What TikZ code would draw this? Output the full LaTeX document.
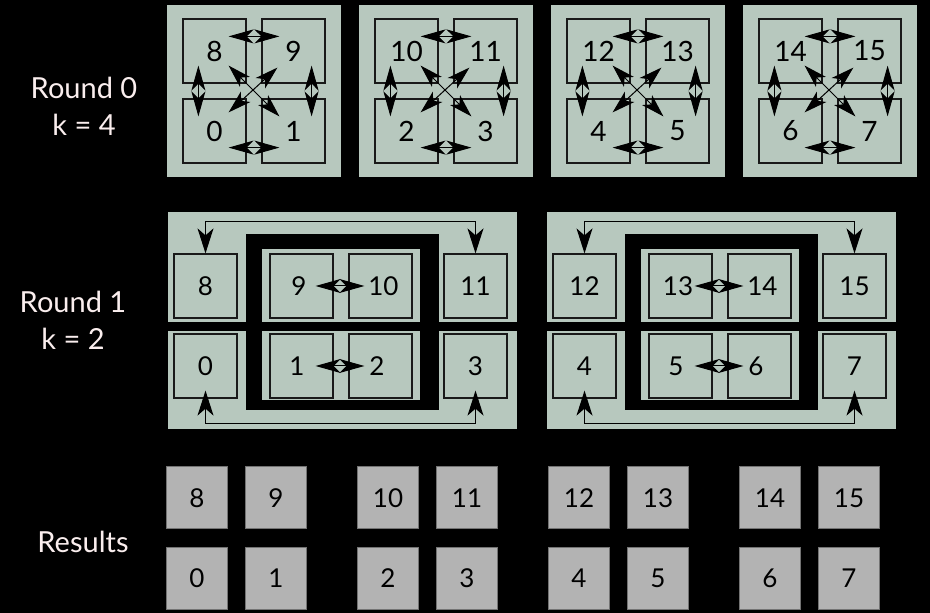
\documentclass[tikz,border=0pt]{standalone}
\usepackage{fontspec}
\setmainfont{Lato}
\usetikzlibrary{arrows.meta, math, positioning}
\definecolor{sage}{RGB}{183,200,190}
\definecolor{resgrey}{RGB}{179,179,179}
\definecolor{txtwhite}{RGB}{250,238,238}

\begin{document}
\begin{tikzpicture}[x=0.5pt, y=-0.5pt,
  cell/.style={draw=black!90, line width=0.6pt, minimum width=31.5pt, minimum height=32pt, inner sep=0pt, font=\fontsize{14}{14}\selectfont},
  rescell/.style={fill=resgrey, draw=black!55, line width=0.5pt, minimum width=30.5pt, minimum height=31pt, inner sep=0pt, font=\fontsize{13}{13}\selectfont},
  digit/.style={inner sep=0pt, font=\fontsize{13}{13}\selectfont},
  pairarrow/.style={{Stealth[length=12.5pt,width=7pt,inset=3.5pt]}-{Stealth[length=12.5pt,width=7pt,inset=3.5pt]}, line width=0.5pt},
  diagarrow/.style={{Stealth[length=11.5pt,width=7pt,inset=3pt]}-{Stealth[length=11.5pt,width=7pt,inset=3pt]}, line width=0.5pt},
  hoparrow/.style={{Stealth[length=12.5pt,width=8pt,inset=3.5pt]}-{Stealth[length=12.5pt,width=8pt,inset=3.5pt]}, line width=0.6pt},
  lbl/.style={text=txtwhite, align=center, font=\fontsize{14.5}{18.5}\selectfont}]
\tikzmath{
\dzero=192;
\dres=191;
\dpair=79;
}
%background
\fill[black] (0,0) rectangle (930,613);

%round 0
\foreach \i in {0,...,3}{
  \pgfmathsetmacro\L{167+\dzero*\i}
  \pgfmathtruncatemacro\ta{8+2*\i}
  \pgfmathtruncatemacro\tb{9+2*\i}
  \pgfmathtruncatemacro\ba{2*\i}
  \pgfmathtruncatemacro\bb{2*\i+1}
  \fill[sage] (\L,5) rectangle ++(174,172);
  \node[cell] (r0-\ta) at (\L+47.5,51) {\ta};
  \node[cell] (r0-\tb) at (\L+126.5,51) {\tb};
  \node[cell] (r0-\ba) at (\L+47.5,131) {\ba};
  \node[cell] (r0-\bb) at (\L+126.5,131) {\bb};
  \draw[pairarrow] ([shift={(-9pt,-9pt)}]r0-\ta.north east) -- ([shift={(9pt,-9pt)}]r0-\tb.north west);
  \draw[pairarrow] ([shift={(-9pt,8pt)}]r0-\ba.south east) -- ([shift={(9pt,8pt)}]r0-\bb.south west);
  \draw[pairarrow] ([shift={(8pt,9pt)}]r0-\ta.south west) -- ([shift={(8pt,-9pt)}]r0-\ba.north west);
  \draw[pairarrow] ([shift={(-7pt,9pt)}]r0-\tb.south east) -- ([shift={(-7pt,-9pt)}]r0-\bb.north east);
  \draw[diagarrow] ([shift={(-9pt,9pt)}]r0-\ta.south east) -- ([shift={(9pt,-9pt)}]r0-\bb.north west);
  \draw[diagarrow] ([shift={(8pt,8pt)}]r0-\tb.south west) -- ([shift={(-9pt,-7pt)}]r0-\ba.north east);
}

%round 1
\foreach \j/\L in {0/168,1/547}{
  \pgfmathtruncatemacro\a{8+4*\j}
  \pgfmathtruncatemacro\b{9+4*\j}
  \pgfmathtruncatemacro\c{10+4*\j}
  \pgfmathtruncatemacro\d{11+4*\j}
  \pgfmathtruncatemacro\e{4*\j}
  \pgfmathtruncatemacro\f{4*\j+1}
  \pgfmathtruncatemacro\g{4*\j+2}
  \pgfmathtruncatemacro\h{4*\j+3}
  \fill[sage] (\L,212) rectangle ++(349,110);
  \fill[sage] (\L,331) rectangle ++(349,98);
  \fill[black] (\L+78,234) rectangle (\L+271,410);
  \fill[sage] (\L+94,249) rectangle (\L+252,322);
  \fill[sage] (\L+94,331) rectangle (\L+252,400);
  \node[cell, font=\fontsize{13}{13}\selectfont] (r1-\a) at (\L+37.5,286) {\a};
  \node[cell] (r1-\b) at (\L+133.5,286) {};
  \node[cell] (r1-\c) at (\L+212.5,286) {};
  \node[cell, font=\fontsize{13}{13}\selectfont] (r1-\d) at (\L+307.5,286) {\d};
  \node[cell, font=\fontsize{13}{13}\selectfont] (r1-\e) at (\L+37.5,366) {\e};
  \node[cell] (r1-\f) at (\L+133.5,366) {};
  \node[cell] (r1-\g) at (\L+212.5,366) {};
  \node[cell, font=\fontsize{13}{13}\selectfont] (r1-\h) at (\L+307.5,366) {\h};
  \node[digit] (t-\b) at (\L+131,286) {\b};
  \node[digit, anchor=west] (t-\c) at (\L+200,286) {\c};
  \node[digit] (t-\f) at (\L+129,366) {\f};
  \node[digit, anchor=west] (t-\g) at (\L+201,366) {\g};
  \draw[pairarrow] ([xshift=-9pt]r1-\b.east) -- ([xshift=8pt]r1-\c.west);
  \draw[pairarrow] ([xshift=-9pt]r1-\f.east) -- ([xshift=8pt]r1-\g.west);
  \draw[hoparrow] (r1-\a.north) -- ++(0,-32) -| (r1-\d.north);
  \draw[hoparrow] ([yshift=4pt]r1-\e.south) -- ++(0,33) -| ([yshift=4pt]r1-\h.south);
}

%results
\foreach \j in {0,...,3}{
  \foreach \k in {0,1}{
    \pgfmathtruncatemacro\top{8+2*\j+\k}
    \pgfmathtruncatemacro\bot{2*\j+\k}
    \node[rescell] (res-\top) at (197+\dres*\j+\dpair*\k,498) {\top};
    \node[rescell] (res-\bot) at (197+\dres*\j+\dpair*\k,578) {\bot};
  }
}

%labels
\node[lbl] (round0) at (84,106) {Round 0\\k = 4};
\node[lbl] (round1) at (73,320) {Round 1\\k = 2};
\node[lbl] (results) at (83,542) {Results};
\end{tikzpicture}
\end{document}
